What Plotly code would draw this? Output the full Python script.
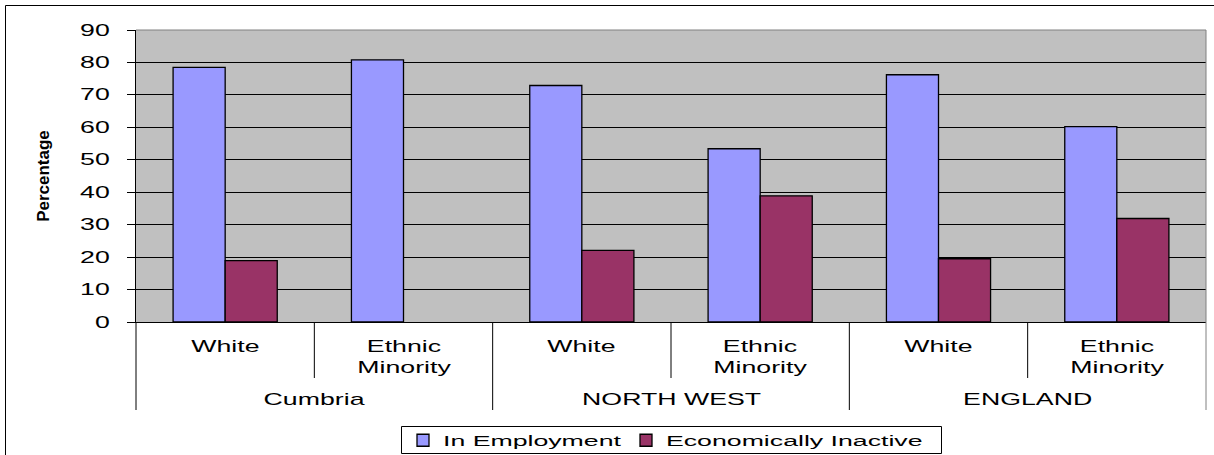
import plotly.graph_objects as go

# Regions and ethnic groups (two-level category axis)
regions = ["Cumbria", "Cumbria", "NORTH WEST", "NORTH WEST", "ENGLAND", "ENGLAND"]
groups = ["White", "Ethnic<br>Minority", "White", "Ethnic<br>Minority", "White", "Ethnic<br>Minority"]

# Percentages
in_employment = [78.5, 80.8, 72.9, 53.4, 76.2, 60.2]
economically_inactive = [18.9, None, 22.1, 38.9, 19.5, 31.9]

y_ticks = [0, 10, 20, 30, 40, 50, 60, 70, 80, 90]

FONT = "Liberation Sans, Arial, sans-serif"
W, H = 1214, 455
M_L, M_R, M_T, M_B = 136, 8, 30, 133
PW, PH = W - M_L - M_R, H - M_T - M_B


def px_x(px):
    """Horizontal pixel -> paper coordinate."""
    return (px - M_L) / PW


def px_y(px):
    """Vertical pixel (from top) -> paper coordinate."""
    return (H - M_B - px) / PH


keys = [f"{r} / {g}" for r, g in zip(regions, groups)]

fig = go.Figure()
fig.add_trace(go.Bar(
    x=keys, y=in_employment, name="In Employment", legendwidth=178,
    marker=dict(color="#9999FF", line=dict(color="#000000", width=1.3)),
))
fig.add_trace(go.Bar(
    x=keys, y=economically_inactive, name="Economically Inactive", legendwidth=272,
    marker=dict(color="#993366", line=dict(color="#000000", width=1.3)),
))

fig.update_layout(
    width=W, height=H,
    margin=dict(l=M_L, r=M_R, t=M_T, b=M_B, autoexpand=False),
    paper_bgcolor="white",
    plot_bgcolor="#C0C0C0",
    barmode="group",
    bargap=0.416,
    bargroupgap=0,
    font=dict(family=FONT, size=16, color="black"),
    showlegend=True,
    legend=dict(
        orientation="h", x=px_x(403), xanchor="left", y=px_y(424), yanchor="top",
        borderwidth=0, bgcolor="rgba(0,0,0,0)",
        font=dict(family=FONT, size=15), itemwidth=30,
    ),
)

fig.update_yaxes(
    range=[0, 90], tickvals=y_ticks, ticks="outside", ticklen=8,
    tickcolor="black", showline=True, linecolor="black", linewidth=1,
    showgrid=True, gridcolor="#000000", gridwidth=1, zeroline=False,
    tickfont=dict(family=FONT, size=16), ticklabelstandoff=14,
    automargin=False,
    title=dict(text="<b>Percentage</b>", font=dict(family=FONT, size=17), standoff=38),
)
fig.update_xaxes(
    type="category", categoryorder="array", categoryarray=keys,
    showticklabels=False, ticks="", showline=True, linecolor="black", linewidth=1,
    automargin=False,
)

# Second-level (ethnic group) labels under each bar pair
for k, g in zip(keys, groups):
    fig.add_annotation(x=k, xref="x", xanchor="center", y=px_y(336), yref="paper",
                       yanchor="top", text=g, showarrow=False,
                       font=dict(family=FONT, size=16))

# Region labels centred under each region's pair of categories
n = len(keys)
region_names = list(dict.fromkeys(regions))
for name in region_names:
    idx = [i for i, r in enumerate(regions) if r == name]
    fig.add_annotation(x=(idx[0] + idx[-1] + 1) / (2 * n), xref="paper", xanchor="center",
                       y=px_y(399), yref="paper", yanchor="middle",
                       text=name, showarrow=False, font=dict(family=FONT, size=16))

# Category boundary lines below the axis: short between groups, long between regions
for i in range(n + 1):
    at_region_edge = i == 0 or i == n or regions[i] != regions[i - 1]
    bottom = 410 if at_region_edge else 378
    color = "#808080" if i == n else "black"
    fig.add_shape(type="line", xref="paper", yref="paper",
                  x0=i / n, x1=i / n, y0=0, y1=px_y(bottom),
                  line=dict(color=color, width=1))

# Gray top and right edges of the plot area
fig.add_shape(type="line", xref="paper", yref="paper", x0=0, x1=1, y0=1, y1=1,
              line=dict(color="#808080", width=1), layer="above")
fig.add_shape(type="line", xref="paper", yref="paper", x0=1, x1=1, y0=0, y1=1,
              line=dict(color="#808080", width=1), layer="above")

# Legend frame
fig.add_shape(type="rect", xref="paper", yref="paper",
              x0=px_x(401.5), x1=px_x(941.5), y0=px_y(453.5), y1=px_y(426.5),
              line=dict(color="black", width=1))

# Outer chart frame
fig.add_shape(type="rect", xref="paper", yref="paper",
              x0=px_x(5.5), x1=px_x(W + 20), y0=px_y(H + 20), y1=px_y(5.5),
              line=dict(color="black", width=1))

# Wide, Excel-like lettering for labels and legend
css = """
g.ytick { transform-box: fill-box; transform-origin: 100% 50%; transform: scaleX(1.67); }
text.annotation-text { transform-box: fill-box; transform-origin: 50% 50%; transform: scaleX(1.67); }
text.legendtext { transform-box: fill-box; transform-origin: 0% 50%; transform: scaleX(1.78); }
"""
post = ("var s=document.createElement('style');s.textContent=" + repr(css).replace("\n", " ")
        + ";document.head.appendChild(s);")

fig.write_html("out.html", post_script=post)
